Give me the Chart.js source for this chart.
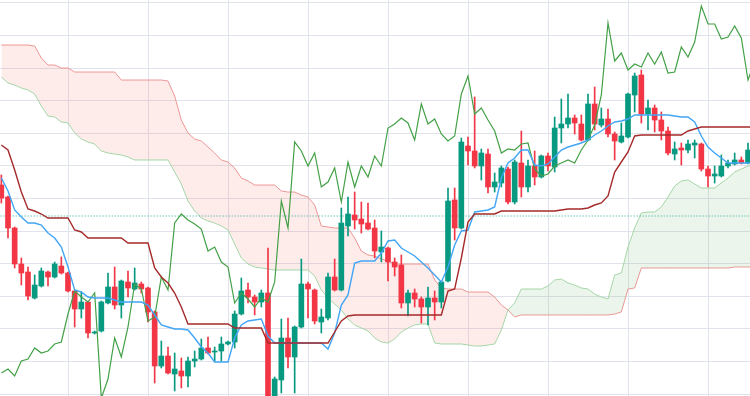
<!DOCTYPE html>
<html>
<head>
<meta charset="utf-8">
<script src="https://cdn.jsdelivr.net/npm/chart.js@4.4.1/dist/chart.umd.min.js"></script>
<style>
  html, body { margin: 0; padding: 0; background: #fff; }
  canvas { display: block; }
</style>
</head>
<body>
<canvas id="chart" width="750" height="396"></canvas>
<script>
// candles, one per bar index
const opens = [1.1011,1.0999,1.0968,1.0932,1.0924,1.0898,1.0910,1.0924,1.0919,1.0930,
  1.0923,1.0905,1.0887,1.0894,1.0863,1.0865,1.0893,1.0909,1.0891,1.0914,
  1.0907,1.0912,1.0908,1.0884,1.0830,1.0840,1.0822,1.0825,1.0820,1.0835,
  1.0837,1.0848,1.0844,1.0845,1.0852,1.0854,1.0882,1.0906,1.0899,1.0894,
  1.0903,1.0797,1.0816,1.0858,1.0839,1.0869,1.0912,1.0906,1.0874,1.0878,
  1.0919,1.0906,1.0970,1.0981,1.0977,1.0973,1.0968,1.0944,1.0948,1.0934,
  1.0931,1.0893,1.0903,1.0897,1.0889,1.0898,1.0894,1.0915,1.0996,1.0968,
  1.1050,1.1045,1.1030,1.1042,1.1009,1.1013,1.1027,1.0994,1.1033,1.1009,
  1.1030,1.1019,1.1040,1.1029,1.1068,1.1072,1.1078,1.1072,1.1056,1.1092,
  1.1071,1.1077,1.1062,1.1054,1.1059,1.1101,1.1121,1.1082,1.1088,1.1076,
  1.1065,1.1042,1.1048,1.1046,1.1051,1.1052,1.1027,1.1020,1.1020,1.1030,
  1.1032,1.1036,1.1033];
const highs = [1.1021,1.1000,1.0969,1.0938,1.0929,1.0921,1.0928,1.0925,1.0934,1.0939,
  1.0924,1.0906,1.0904,1.0895,1.0865,1.0895,1.0923,1.0929,1.0916,1.0925,
  1.0928,1.0914,1.0909,1.0885,1.0855,1.0849,1.0843,1.0838,1.0839,1.0845,
  1.0857,1.0859,1.0849,1.0859,1.0855,1.0885,1.0918,1.0913,1.0901,1.0906,
  1.0948,1.0819,1.0877,1.0878,1.0870,1.0937,1.0914,1.0907,1.0887,1.0923,
  1.0937,1.0988,1.0999,1.1004,1.0994,1.0993,1.0976,1.0965,1.0949,1.0938,
  1.0941,1.0906,1.0907,1.0899,1.0909,1.0905,1.0915,1.1008,1.1008,1.1058,
  1.1059,1.1099,1.1047,1.1047,1.1023,1.1030,1.1029,1.1036,1.1065,1.1036,
  1.1045,1.1041,1.1043,1.1079,1.1097,1.1102,1.1081,1.1081,1.1102,1.1109,
  1.1088,1.1087,1.1064,1.1073,1.1103,1.1123,1.1126,1.1096,1.1091,1.1084,
  1.1069,1.1054,1.1053,1.1056,1.1056,1.1053,1.1030,1.1030,1.1041,1.1036,
  1.1043,1.1039,1.1053];
const lows = [1.0993,1.0958,1.0928,1.0911,1.0896,1.0897,1.0909,1.0910,1.0918,1.0922,
  1.0904,1.0869,1.0878,1.0858,1.0862,1.0864,1.0892,1.0887,1.0878,1.0899,
  1.0906,1.0903,1.0874,1.0813,1.0828,1.0822,1.0805,1.0808,1.0809,1.0829,
  1.0836,1.0842,1.0835,1.0835,1.0851,1.0848,1.0881,1.0893,1.0881,1.0889,
  1.0794,1.0794,1.0803,1.0828,1.0803,1.0868,1.0878,1.0872,1.0863,1.0876,
  1.0905,1.0905,1.0960,1.0967,1.0963,1.0966,1.0938,1.0934,1.0915,1.0920,
  1.0888,1.0880,1.0889,1.0873,1.0871,1.0876,1.0888,1.0914,1.0956,1.0967,
  1.1031,1.1028,1.1016,1.1003,1.1004,1.1009,1.0992,1.0992,1.0999,1.1004,
  1.1011,1.1018,1.1025,1.1024,1.1053,1.1068,1.1062,1.1055,1.1055,1.1066,
  1.1069,1.1059,1.1036,1.1053,1.1058,1.1084,1.1073,1.1066,1.1064,1.1056,
  1.1041,1.1036,1.1031,1.1043,1.1038,1.1025,1.1009,1.1013,1.1019,1.1028,
  1.1031,1.1032,1.1032];
const closes = [1.0998,1.0968,1.0932,1.0923,1.0900,1.0911,1.0925,1.0919,1.0932,1.0923,
  1.0905,1.0887,1.0894,1.0863,1.0864,1.0894,1.0909,1.0891,1.0915,1.0908,
  1.0913,1.0907,1.0884,1.0830,1.0840,1.0823,1.0827,1.0820,1.0835,1.0837,
  1.0848,1.0843,1.0845,1.0852,1.0854,1.0882,1.0905,1.0899,1.0894,1.0903,
  1.0798,1.0817,1.0858,1.0839,1.0869,1.0912,1.0907,1.0875,1.0879,1.0919,
  1.0906,1.0973,1.0982,1.0976,1.0972,1.0967,1.0945,1.0949,1.0934,1.0929,
  1.0893,1.0903,1.0897,1.0889,1.0898,1.0894,1.0914,1.0995,1.0968,1.1054,
  1.1045,1.1030,1.1043,1.1009,1.1014,1.1028,1.0994,1.1034,1.1009,1.1030,
  1.1019,1.1040,1.1030,1.1068,1.1072,1.1078,1.1073,1.1056,1.1092,1.1072,
  1.1077,1.1062,1.1055,1.1060,1.1102,1.1120,1.1082,1.1088,1.1076,1.1065,
  1.1043,1.1047,1.1046,1.1052,1.1053,1.1027,1.1020,1.1022,1.1030,1.1033,
  1.1036,1.1033,1.1046];
// closes after the visible window (only seen through the lagging span)
const laterCloses = [1.1056,1.1071,1.1101,1.1173,1.1135,1.1143,1.1126,1.1132,1.1129,1.1143,
  1.1132,1.1144,1.1123,1.1124,1.1149,1.1139,1.1154,1.1190,1.1172,1.1172,
  1.1157,1.1159,1.1170,1.1158,1.1116,1.1134];

// ichimoku lines, one value per bar index (last one just past the right edge)
const tenkan = [1.1018,1.1005,1.0986,1.0979,1.0973,1.0973,1.0971,1.0963,1.0958,1.0949,
  1.0929,1.0906,1.0904,1.0899,1.0898,1.0898,1.0898,1.0896,1.0894,1.0894,
  1.0894,1.0894,1.0891,1.0881,1.0871,1.0869,1.0867,1.0867,1.0866,1.0858,
  1.0849,1.0843,1.0834,1.0834,1.0834,1.0858,1.0871,1.0875,1.0876,1.0877,
  1.0860,1.0853,1.0853,1.0853,1.0853,1.0853,1.0853,1.0853,1.0853,1.0847,
  1.0863,1.0891,1.0901,1.0933,1.0935,1.0935,1.0935,1.0943,1.0955,1.0956,
  1.0948,1.0944,1.0940,1.0934,1.0928,1.0921,1.0914,1.0929,1.0951,1.0965,
  1.0966,1.0984,1.0985,1.0986,1.0989,1.1018,1.1033,1.1038,1.1046,1.1046,
  1.1031,1.1030,1.1032,1.1039,1.1046,1.1049,1.1051,1.1053,1.1056,1.1061,
  1.1065,1.1070,1.1074,1.1075,1.1077,1.1081,1.1081,1.1081,1.1081,1.1081,
  1.1081,1.1080,1.1079,1.1079,1.1074,1.1060,1.1049,1.1043,1.1038,1.1033,
  1.1033,1.1033,1.1033,1.1033];
const kijun = [1.1051,1.1046,1.1026,1.1004,1.0987,1.0985,1.0982,1.0978,1.0978,1.0978,
  1.0978,1.0966,1.0964,1.0958,1.0958,1.0958,1.0958,1.0958,1.0958,1.0953,
  1.0953,1.0953,1.0953,1.0928,1.0919,1.0913,1.0903,1.0889,1.0872,1.0872,
  1.0872,1.0872,1.0872,1.0872,1.0872,1.0868,1.0868,1.0868,1.0868,1.0868,
  1.0853,1.0853,1.0853,1.0853,1.0853,1.0853,1.0853,1.0853,1.0853,1.0853,
  1.0864,1.0875,1.0880,1.0881,1.0881,1.0881,1.0881,1.0881,1.0881,1.0881,
  1.0881,1.0881,1.0881,1.0881,1.0881,1.0881,1.0881,1.0905,1.0907,1.0938,
  1.0974,1.0982,1.0982,1.0982,1.0982,1.0985,1.0985,1.0985,1.0985,1.0985,
  1.0985,1.0985,1.0985,1.0985,1.0986,1.0987,1.0987,1.0987,1.0988,1.0991,
  1.0993,1.1000,1.1024,1.1034,1.1044,1.1060,1.1061,1.1061,1.1061,1.1061,
  1.1061,1.1061,1.1061,1.1065,1.1067,1.1069,1.1069,1.1069,1.1069,1.1069,
  1.1069,1.1069,1.1069,1.1069];
const senkouA = [1.1119,1.1113,1.1111,1.1108,1.1106,1.1102,1.1090,1.1080,1.1079,1.1074,
  1.1073,1.1063,1.1057,1.1054,1.1052,1.1045,1.1043,1.1042,1.1041,1.1039,
  1.1036,1.1036,1.1036,1.1036,1.1036,1.1036,1.1024,1.1012,1.0995,1.0985,
  1.0978,1.0975,1.0973,1.0970,1.0966,1.0952,1.0938,1.0932,1.0929,1.0928,
  1.0927,1.0926,1.0926,1.0926,1.0926,1.0926,1.0926,1.0920,1.0906,1.0898,
  1.0892,1.0886,1.0877,1.0871,1.0868,1.0865,1.0858,1.0854,1.0853,1.0857,
  1.0864,1.0868,1.0871,1.0872,1.0872,1.0853,1.0852,1.0852,1.0852,1.0852,
  1.0851,1.0850,1.0850,1.0851,1.0852,1.0866,1.0886,1.0893,1.0907,1.0907,
  1.0907,1.0907,1.0910,1.0916,1.0917,1.0913,1.0911,1.0908,1.0907,1.0902,
  1.0899,1.0897,1.0921,1.0923,1.0949,1.0968,1.0983,1.0984,1.0984,1.0989,
  1.0999,1.1010,1.1015,1.1016,1.1012,1.1008,1.1008,1.1008,1.1013,1.1018,
  1.1024,1.1027,1.1030,1.1031];
const senkouB = [1.1151,1.1151,1.1151,1.1151,1.1151,1.1150,1.1138,1.1131,1.1131,1.1128,
  1.1128,1.1124,1.1124,1.1124,1.1124,1.1124,1.1124,1.1124,1.1116,1.1116,
  1.1116,1.1116,1.1116,1.1116,1.1116,1.1115,1.1100,1.1076,1.1063,1.1057,
  1.1055,1.1049,1.1043,1.1036,1.1034,1.1028,1.1018,1.1015,1.1011,1.1011,
  1.1011,1.1011,1.1005,1.1004,1.1004,1.1001,1.0999,1.0991,1.0970,1.0969,
  1.0968,1.0968,1.0968,1.0958,1.0945,1.0941,1.0940,1.0937,1.0935,1.0932,
  1.0932,1.0932,1.0932,1.0932,1.0932,1.0916,1.0908,1.0907,1.0907,1.0907,
  1.0904,1.0904,1.0904,1.0904,1.0899,1.0891,1.0886,1.0879,1.0881,1.0881,
  1.0881,1.0881,1.0881,1.0881,1.0881,1.0881,1.0881,1.0881,1.0881,1.0881,
  1.0881,1.0881,1.0882,1.0884,1.0907,1.0908,1.0928,1.0928,1.0928,1.0928,
  1.0928,1.0928,1.0928,1.0928,1.0928,1.0928,1.0928,1.0928,1.0928,1.0928,
  1.0929,1.0929,1.0929,1.0929];

// dotted price level and the (hidden) axis ticks that carry the grid
const priceLevel = 1.0980;
const priceTicks = [1.0802,1.08346,1.08672,1.08997,1.09323,1.09649,1.09975,
  1.10301,1.10626,1.10952,1.11278,1.11604,1.11930];
const barTicks = [4,16,28,40,52,64,76,88,100,112];

const UP = '#089981';
const DOWN = '#f23645';
const GRID = '#e0e3eb';

// lagging span: close plotted 25 bars back
const allCloses = closes.concat(laterCloses);
const chikou = tenkan.map((_, i) => allCloses[i + 25]);

const bars = opens.map((_, i) => i);
const candleColors = bars.map(i => (closes[i] >= opens[i] ? UP : DOWN));
const points = arr => arr.map((v, i) => ({ x: i, y: v }));

function lineSet(label, values, color, width, order) {
  return {
    type: 'line',
    label: label,
    data: points(values),
    borderColor: color,
    borderWidth: width,
    pointRadius: 0,
    tension: 0,
    fill: false,
    order: order
  };
}

const spanB = lineSet('Senkou B', senkouB, '#ef9a9a', 1, 10);
const spanA = lineSet('Senkou A', senkouA, '#a5d6a7', 1, 9);
spanA.fill = { target: 0, above: 'rgba(67,160,71,0.10)', below: 'rgba(244,67,54,0.10)' };

const level = lineSet('Level', [priceLevel, priceLevel], '#26a69a', 1, 8);
level.data = [{ x: bars[0] - 1, y: priceLevel }, { x: bars[bars.length - 1] + 2, y: priceLevel }];
level.borderDash = [1, 2];

new Chart(document.getElementById('chart'), {
  type: 'bar',
  data: {
    datasets: [
      spanB,
      spanA,
      level,
      {
        type: 'bar',
        label: 'Wicks',
        data: bars.map(i => ({ x: i, y: [lows[i], highs[i]] })),
        backgroundColor: candleColors,
        barThickness: 1,
        grouped: false,
        order: 7
      },
      {
        type: 'bar',
        label: 'Bodies',
        data: bars.map(i => ({ x: i, y: [opens[i], closes[i]] })),
        backgroundColor: candleColors,
        barThickness: 5,
        minBarLength: 1,
        grouped: false,
        order: 6
      },
      lineSet('Chikou', chikou, '#43a047', 1.2, 5),
      lineSet('Tenkan', tenkan, '#42a5f5', 1.4, 4),
      lineSet('Kijun', kijun, '#a52a2a', 1.4, 3)
    ]
  },
  options: {
    responsive: false,
    animation: false,
    events: [],
    layout: { padding: 0 },
    plugins: {
      legend: { display: false },
      tooltip: { enabled: false }
    },
    scales: {
      x: {
        type: 'linear',
        min: -0.2,
        max: 112.3,
        offset: false,
        afterBuildTicks: s => { s.ticks = barTicks.map(v => ({ value: v })); },
        ticks: { display: false },
        grid: { color: GRID, drawTicks: false },
        border: { display: false }
      },
      y: {
        min: 1.0800,
        max: 1.1196,
        afterBuildTicks: s => { s.ticks = priceTicks.map(v => ({ value: v })); },
        ticks: { display: false },
        grid: { color: GRID, drawTicks: false },
        border: { display: false }
      }
    }
  }
});
</script>
</body>
</html>
